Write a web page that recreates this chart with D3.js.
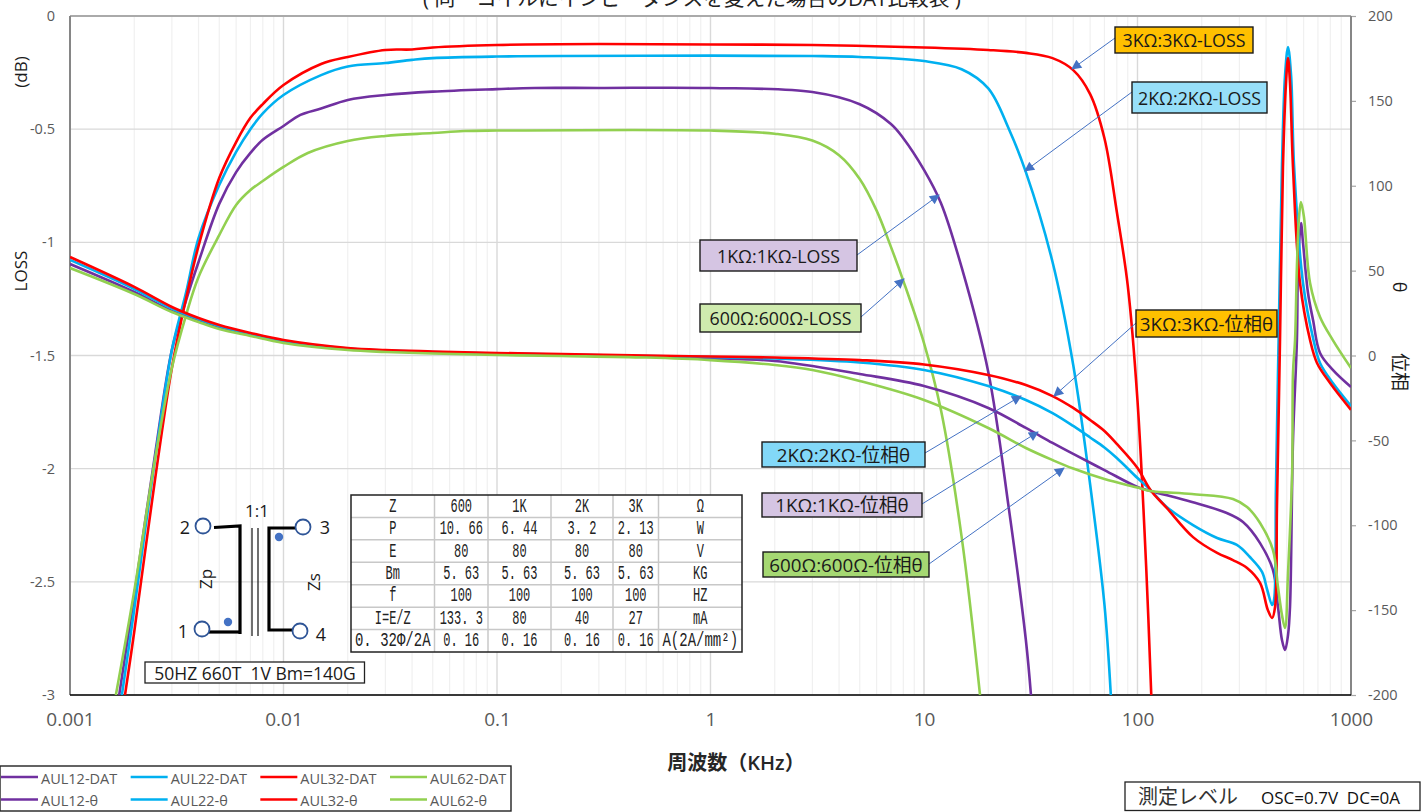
<!DOCTYPE html>
<html>
<head>
<meta charset="utf-8">
<script src="https://cdn.jsdelivr.net/npm/d3@7"></script>
<style>
  html, body { margin: 0; padding: 0; background: #fff; overflow: hidden; }
  text { font-family: "Open Sans", "Noto Sans CJK JP", sans-serif; white-space: pre; }
</style>
</head>
<body>
<svg id="chart" width="1424" height="812"></svg>
<script>
// LOSS curves, [KHz, dB]
const aul12Dat = [[0.0017,-3],[0.002,-2.56],[0.0025,-1.94],[0.003,-1.476],[0.0035,-1.255],[0.004,-1.087],[0.005,-0.83],[0.006,-0.69],[0.007,-0.605],[0.008,-0.547],[0.01,-0.486],[0.012,-0.437],[0.015,-0.409],[0.02,-0.371],[0.03,-0.349],[0.05,-0.334],[0.1,-0.323],[0.15,-0.318],[0.3,-0.318],[1,-0.318],[3,-0.336],[5,-0.39],[7,-0.477],[8,-0.54],[10,-0.68],[12,-0.826],[15,-1.11],[20,-1.573],[25,-2.18],[30,-2.757],[31.7,-3]];
const aul22Dat = [[0.00175,-3],[0.002,-2.62],[0.0025,-1.96],[0.003,-1.476],[0.0035,-1.22],[0.004,-0.981],[0.005,-0.747],[0.006,-0.6],[0.007,-0.5],[0.008,-0.43],[0.01,-0.349],[0.015,-0.261],[0.02,-0.223],[0.03,-0.208],[0.04,-0.194],[0.05,-0.186],[0.1,-0.179],[0.2,-0.177],[1,-0.175],[3,-0.177],[5,-0.181],[10,-0.199],[15,-0.235],[20,-0.32],[25,-0.5],[30,-0.69],[40,-1.087],[50,-1.542],[60,-2.07],[70,-2.6],[75,-3]];
const aul32Dat = [[0.00181,-3],[0.002,-2.72],[0.0025,-2.05],[0.003,-1.555],[0.0035,-1.246],[0.004,-1.016],[0.005,-0.716],[0.006,-0.557],[0.007,-0.45],[0.008,-0.389],[0.01,-0.305],[0.015,-0.212],[0.02,-0.181],[0.03,-0.15],[0.04,-0.148],[0.05,-0.139],[0.1,-0.128],[0.3,-0.124],[1,-0.126],[3,-0.128],[10,-0.139],[20,-0.15],[30,-0.163],[40,-0.186],[50,-0.239],[60,-0.345],[70,-0.54],[80,-0.865],[90,-1.19],[100,-1.7],[110,-2.45],[116,-3]];
const aul62Dat = [[0.00164,-3],[0.002,-2.54],[0.0025,-1.96],[0.003,-1.555],[0.0035,-1.32],[0.004,-1.153],[0.005,-0.968],[0.006,-0.835],[0.007,-0.769],[0.008,-0.729],[0.01,-0.667],[0.013,-0.605],[0.02,-0.552],[0.03,-0.53],[0.05,-0.517],[0.07,-0.508],[0.1,-0.506],[1,-0.506],[2,-0.52],[3,-0.55],[4,-0.615],[5,-0.72],[6,-0.86],[7,-1.02],[8,-1.17],[10,-1.445],[12,-1.74],[15,-2.3],[18.3,-3]];

// phase curves, [KHz, degrees]
const aul12Th = [[0.001,53.9],[0.002,37.4],[0.003,26.2],[0.004,20.3],[0.005,16.2],[0.007,12.1],[0.01,8],[0.02,3.8],[0.03,2.7],[0.05,1.8],[0.1,0.9],[0.2,0.3],[0.5,-0.6],[1,-1.8],[2,-3.2],[5,-10.9],[10,-18],[20,-30.9],[30,-42.7],[40,-51.5],[50,-58],[70,-67.5],[100,-77.5],[115,-79.8],[180,-86.3],[262,-92.8],[312,-98.1],[375,-110.5],[431,-126.4],[455,-148],[475,-167.6],[491,-173.5],[507,-164.7],[518,-148],[535,-49.8],[558,9.1],[565,52.1],[583,78],[596,66.3],[629,36.8],[664,20.9],[716,1.5],[822,-8.5],[1000,-18.6]];
const aul22Th = [[0.001,56.3],[0.002,39.2],[0.003,27.7],[0.004,21.5],[0.005,17.4],[0.007,12.7],[0.01,8.5],[0.02,4.1],[0.03,2.9],[0.05,2.1],[0.1,1.2],[0.2,0.6],[0.5,-0.3],[1,-0.9],[2,-1.8],[5,-4.1],[10,-8.5],[20,-18],[30,-26.2],[40,-33.9],[50,-41.5],[60,-48.3],[70,-54.2],[80,-60.4],[100,-72.2],[115,-79.2],[137,-89.2],[182,-99.9],[236,-107.5],[292,-111.6],[336,-118.7],[383,-127.5],[405,-138],[427,-147],[436,-144],[445,-79],[459,15],[475,112],[491,165],[507,181.7],[524,165],[541,112],[596,42.7],[664,10.3],[716,-4.4],[822,-16.2],[1000,-29.7]];
const aul32Th = [[0.001,58],[0.002,40.4],[0.003,28.6],[0.004,22.1],[0.005,18],[0.007,13.3],[0.01,9.1],[0.02,4.4],[0.03,3.2],[0.05,2.4],[0.1,1.5],[0.2,0.9],[0.5,0],[1,-0.6],[2,-1.2],[5,-2.7],[10,-5.3],[20,-11.5],[30,-17.4],[40,-23.9],[50,-30.9],[60,-38],[70,-44.5],[80,-52.1],[100,-66.3],[115,-79.2],[137,-89.8],[182,-107],[236,-116.3],[280,-120.5],[326,-125.2],[375,-134],[408,-150],[427,-154.6],[441,-148],[450,-89],[465,9.1],[480,111],[496,160.5],[507,175.3],[518,160.5],[535,111],[577,42.7],[643,9.1],[693,-4.4],[798,-16.2],[1000,-32]];
const aul62Th = [[0.001,51.5],[0.002,36.2],[0.003,25.6],[0.004,19.7],[0.005,15.6],[0.007,11.5],[0.01,7.4],[0.02,3.2],[0.03,2.1],[0.05,1.2],[0.1,0.3],[0.2,-0.3],[0.5,-1.2],[1,-2.7],[2,-5.6],[3,-8.5],[5,-15],[10,-26.2],[20,-42.7],[30,-54.5],[40,-61.6],[50,-66.6],[70,-72.8],[100,-77.8],[115,-79.8],[180,-81.6],[280,-84.5],[326,-89.3],[375,-98.7],[431,-114.6],[455,-136.4],[475,-152.9],[491,-160.5],[507,-128.1],[530,-69.2],[535,-10.3],[547,9.1],[558,52.1],[571,81.6],[583,90.4],[602,81.6],[643,42.7],[716,22.7],[822,9.1],[1000,-7.4]];

const seriesNames = ["AUL12", "AUL22", "AUL32", "AUL62"];
const seriesColors = ["#7030A0", "#00B0F0", "#FF0000", "#92D050"];
const lossSeries = [aul12Dat, aul22Dat, aul32Dat, aul62Dat];
const phaseSeries = [aul12Th, aul22Th, aul32Th, aul62Th];

const xTicks = [0.001, 0.01, 0.1, 1, 10, 100, 1000];
const lossTicks = [0, -0.5, -1, -1.5, -2, -2.5, -3];
const phaseTicks = [200, 150, 100, 50, 0, -50, -100, -150, -200];

const tableRows = [
  ["Z", "600", "1K", "2K", "3K", "Ω"],
  ["P", "10. 66", "6. 44", "3. 2", "2. 13", "W"],
  ["E", "80", "80", "80", "80", "V"],
  ["Bm", "5. 63", "5. 63", "5. 63", "5. 63", "KG"],
  ["f", "100", "100", "100", "100", "HZ"],
  ["I=E/Z", "133. 3", "80", "40", "27", "mA"],
  ["0. 32Φ/2A", "0. 16", "0. 16", "0. 16", "0. 16", "A(2A/mm²)"]
];

// box, then arrow start and end
const callouts = [
  { text: "3KΩ:3KΩ-LOSS", fill: "#FFC000", box: [1115, 27, 138, 26], from: [1115, 38], to: [1072, 69] },
  { text: "2KΩ:2KΩ-LOSS", fill: "#97DFF9", box: [1132, 82, 135, 31], from: [1132, 92], to: [1025, 171] },
  { text: "3KΩ:3KΩ-位相θ", fill: "#FFC000", box: [1136, 310, 141, 27], from: [1136, 323], to: [1054, 396] },
  { text: "1KΩ:1KΩ-LOSS", fill: "#D5C5E3", box: [700, 240, 157, 31], from: [857, 255], to: [939, 195] },
  { text: "600Ω:600Ω-LOSS", fill: "#CFEBAE", box: [700, 304, 161, 28], from: [861, 317], to: [904, 279] },
  { text: "2KΩ:2KΩ-位相θ", fill: "#82D8F8", box: [762, 442, 163, 25], from: [925, 453], to: [1021, 396] },
  { text: "1KΩ:1KΩ-位相θ", fill: "#D5C5E3", box: [762, 493, 160, 24], from: [922, 504], to: [1038, 432] },
  { text: "600Ω:600Ω-位相θ", fill: "#A5D872", box: [763, 552, 166, 25], from: [929, 564], to: [1064, 468] }
];

const plotL = 70, plotR = 1351, plotT = 16, plotB = 695;

const svg = d3.select("#chart");

const x = d3.scaleLog().domain([0.001, 1000]).range([plotL, plotR]);
const yLoss = d3.scaleLinear().domain([-3, 0]).range([plotB, plotT]);
const yPhase = d3.scaleLinear().domain([-200, 200]).range([plotB, plotT]);

svg.append("defs").append("clipPath").attr("id", "plot")
  .append("rect").attr("x", plotL).attr("y", plotT)
  .attr("width", plotR - plotL).attr("height", plotB - plotT);

const arrowDef = svg.select("defs").append("marker")
  .attr("id", "head").attr("viewBox", "0 0 10 10")
  .attr("refX", 9).attr("refY", 5)
  .attr("markerWidth", 13).attr("markerHeight", 10)
  .attr("markerUnits", "userSpaceOnUse")
  .attr("orient", "auto");
arrowDef.append("path").attr("d", "M0,0L10,5L0,10Z").attr("fill", "#4472C4");

// minor and major grid
const minorX = [];
xTicks.slice(0, -1).forEach(d => {
  for (let k = 2; k < 10; k++) minorX.push(d * k);
});

svg.append("g").selectAll("line").data(minorX).join("line")
  .attr("x1", d => x(d)).attr("x2", d => x(d))
  .attr("y1", plotT).attr("y2", plotB)
  .attr("stroke", "#f0f0f0").attr("stroke-width", 1.2);

svg.append("g").selectAll("line").data(xTicks).join("line")
  .attr("x1", d => x(d)).attr("x2", d => x(d))
  .attr("y1", plotT).attr("y2", plotB)
  .attr("stroke", "#d9d9d9").attr("stroke-width", 1.4);

svg.append("g").selectAll("line").data(lossTicks).join("line")
  .attr("x1", plotL).attr("x2", plotR)
  .attr("y1", d => yLoss(d)).attr("y2", d => yLoss(d))
  .attr("stroke", "#d9d9d9").attr("stroke-width", 1.4);

// axes
function styleAxis(g, size) {
  g.select(".domain").remove();
  g.selectAll("text").attr("fill", "#595959").attr("font-size", size);
  g.selectAll("line").attr("stroke", "#a6a6a6").attr("stroke-width", 1.2);
}

svg.append("g").attr("transform", `translate(0,${plotB})`)
  .call(d3.axisBottom(x).tickValues(xTicks).tickFormat(d => String(d)).tickSize(0).tickPadding(18))
  .call(styleAxis, 19);

svg.append("g").attr("transform", `translate(${plotL},0)`)
  .call(d3.axisLeft(yLoss).tickValues(lossTicks).tickFormat(d => String(d)).tickSize(0).tickPadding(15))
  .call(styleAxis, 14.5);

svg.append("g").attr("transform", `translate(${plotR},0)`)
  .call(d3.axisRight(yPhase).tickValues(phaseTicks).tickFormat(d => String(d)).tickSize(5).tickPadding(12))
  .call(styleAxis, 14.5);

// frame
svg.append("line").attr("x1", plotL).attr("x2", plotR).attr("y1", plotT).attr("y2", plotT)
  .attr("stroke", "#aaaaaa").attr("stroke-width", 2);
svg.append("line").attr("x1", plotL).attr("x2", plotL).attr("y1", plotT).attr("y2", plotB)
  .attr("stroke", "#868686").attr("stroke-width", 2);
svg.append("line").attr("x1", plotR).attr("x2", plotR).attr("y1", plotT).attr("y2", plotB)
  .attr("stroke", "#868686").attr("stroke-width", 2);
svg.append("line").attr("x1", plotL).attr("x2", plotR).attr("y1", plotB).attr("y2", plotB)
  .attr("stroke", "#000").attr("stroke-width", 1.6);

// curves
const smooth = d3.curveCatmullRom.alpha(0.5);
const lossLine = d3.line().x(d => x(d[0])).y(d => yLoss(d[1])).curve(smooth);
const phaseLine = d3.line().x(d => x(d[0])).y(d => yPhase(d[1])).curve(smooth);

const curves = svg.append("g").attr("clip-path", "url(#plot)")
  .attr("fill", "none").attr("stroke-width", 2.6).attr("stroke-linejoin", "round");

curves.selectAll(".loss").data(lossSeries).join("path").attr("class", "loss")
  .attr("d", lossLine).attr("stroke", (d, i) => seriesColors[i]);
curves.selectAll(".phase").data(phaseSeries).join("path").attr("class", "phase")
  .attr("d", phaseLine).attr("stroke", (d, i) => seriesColors[i]);

// title, cut off by the top of the page like the original
svg.append("text").attr("x", 692).attr("y", 6).attr("text-anchor", "middle")
  .attr("font-size", 20.7).attr("fill", "#222")
  .text("( 同一コイルにインピーダンスを変えた場合のDAT比較表 )");

// axis titles
function rotated(text, px, py, angle, size) {
  svg.append("text").attr("transform", `translate(${px},${py}) rotate(${angle})`)
    .attr("text-anchor", "middle").attr("dominant-baseline", "central")
    .attr("font-size", size).attr("fill", "#1a1a1a").text(text);
}
rotated("(dB)", 20, 72, -90, 17);
rotated("LOSS", 20, 271, -90, 17);
rotated("θ", 1400, 287, 90, 18);
rotated("位相", 1400, 372, 90, 19);

svg.append("text").attr("x", 736).attr("y", 770).attr("text-anchor", "middle")
  .attr("font-size", 20).attr("font-weight", 600).attr("fill", "#262626")
  .text("周波数（KHz）");

// callouts
const callout = svg.append("g").selectAll("g").data(callouts).join("g");
callout.append("line")
  .attr("x1", d => d.from[0]).attr("y1", d => d.from[1])
  .attr("x2", d => d.to[0]).attr("y2", d => d.to[1])
  .attr("stroke", "#4472C4").attr("stroke-width", 1)
  .attr("marker-end", "url(#head)");
callout.append("rect")
  .attr("x", d => d.box[0]).attr("y", d => d.box[1])
  .attr("width", d => d.box[2]).attr("height", d => d.box[3])
  .attr("fill", d => d.fill).attr("stroke", "#1a1a1a").attr("stroke-width", 1.4);
callout.append("text")
  .attr("x", d => d.box[0] + d.box[2] / 2).attr("y", d => d.box[1] + d.box[3] / 2)
  .attr("text-anchor", "middle").attr("dominant-baseline", "central")
  .attr("font-size", d => d.text.includes("位相") ? 18.8 : 17.8).attr("fill", "#1a1a1a")
  .text(d => d.text);

// spec table
const colEdges = [351, 434.5, 488, 551, 613, 658.5, 742];
const tableY = d3.scaleBand().domain(d3.range(tableRows.length)).range([495, 652]);

const table = svg.append("g");
table.append("rect").attr("x", colEdges[0]).attr("y", 495)
  .attr("width", colEdges[6] - colEdges[0]).attr("height", 157).attr("fill", "#fff");
table.selectAll(".vline").data(colEdges.slice(1, -1)).join("line").attr("class", "vline")
  .attr("x1", d => d).attr("x2", d => d).attr("y1", 495).attr("y2", 652)
  .attr("stroke", "#c8c8c8").attr("stroke-width", 1.5);
table.selectAll(".hline").data(d3.range(1, tableRows.length)).join("line").attr("class", "hline")
  .attr("x1", colEdges[0]).attr("x2", colEdges[6])
  .attr("y1", d => tableY(d)).attr("y2", d => tableY(d))
  .attr("stroke", "#c8c8c8").attr("stroke-width", 1.5);
table.append("rect").attr("x", colEdges[0]).attr("y", 495)
  .attr("width", colEdges[6] - colEdges[0]).attr("height", 157)
  .attr("fill", "none").attr("stroke", "#222").attr("stroke-width", 1.5);

tableRows.forEach((row, r) => {
  row.forEach((cell, c) => {
    const cx = (colEdges[c] + colEdges[c + 1]) / 2;
    const cy = tableY(r) + tableY.bandwidth() / 2;
    const sx = cell.length >= 9 ? 0.7 : 0.6;
    table.append("text")
      .attr("transform", `translate(${cx},${cy}) scale(${sx},1)`)
      .attr("text-anchor", "middle").attr("dominant-baseline", "central")
      .style("font-family", '"Liberation Mono", "Noto Sans CJK JP", monospace')
      .attr("font-size", 20).attr("fill", "#222")
      .text(cell);
  });
});

// transformer sketch
const sketch = svg.append("g");
const thick = [
  "M214,527.5L240,526V634",
  "M240,632H208",
  "M296,528H269V630H294"
];
sketch.selectAll(".winding").data(thick).join("path").attr("class", "winding")
  .attr("d", d => d).attr("fill", "none").attr("stroke", "#000").attr("stroke-width", 3.2);
sketch.selectAll(".core").data([252, 258]).join("line").attr("class", "core")
  .attr("x1", d => d).attr("x2", d => d).attr("y1", 528).attr("y2", 636)
  .attr("stroke", "#222").attr("stroke-width", 1.3);

const terminals = [
  { n: "2", cx: 203, cy: 526, lx: 185, ly: 527 },
  { n: "3", cx: 303, cy: 527, lx: 325, ly: 527 },
  { n: "1", cx: 202, cy: 629, lx: 183, ly: 631 },
  { n: "4", cx: 300, cy: 631, lx: 321, ly: 634 }
];
sketch.selectAll("circle.term").data(terminals).join("circle").attr("class", "term")
  .attr("cx", d => d.cx).attr("cy", d => d.cy).attr("r", 7.5)
  .attr("fill", "#fff").attr("stroke", "#2F5597").attr("stroke-width", 1.8);
sketch.selectAll("text.term").data(terminals).join("text").attr("class", "term")
  .attr("x", d => d.lx).attr("y", d => d.ly)
  .attr("text-anchor", "middle").attr("dominant-baseline", "central")
  .attr("font-size", 18).attr("fill", "#1a1a1a").text(d => d.n);
sketch.selectAll("circle.dot").data([[279, 537], [228, 622]]).join("circle").attr("class", "dot")
  .attr("cx", d => d[0]).attr("cy", d => d[1]).attr("r", 4.2).attr("fill", "#4472C4");
sketch.append("text").attr("x", 257).attr("y", 510).attr("text-anchor", "middle")
  .attr("dominant-baseline", "central").attr("font-size", 17).attr("fill", "#1a1a1a").text("1:1");
rotated("Zp", 205, 579, -90, 17);
rotated("Zs", 313, 582, -90, 17);

svg.append("rect").attr("x", 145).attr("y", 662).attr("width", 219.5).attr("height", 21)
  .attr("fill", "#fff").attr("stroke", "#222").attr("stroke-width", 1.3);
svg.append("text").attr("x", 255).attr("y", 673).attr("text-anchor", "middle")
  .attr("dominant-baseline", "central").attr("font-size", 17.5).attr("fill", "#1a1a1a")
  .text("50HZ 660T  1V Bm=140G");

// measuring level box
svg.append("rect").attr("x", 1125).attr("y", 782).attr("width", 295).attr("height", 28.5)
  .attr("fill", "#fff").attr("stroke", "#222").attr("stroke-width", 1.3);
svg.append("text").attr("x", 1138).attr("y", 796).attr("dominant-baseline", "central")
  .attr("font-size", 20).attr("fill", "#333").text("測定レベル");
svg.append("text").attr("x", 1261).attr("y", 797).attr("dominant-baseline", "central")
  .attr("font-size", 17).attr("fill", "#111").text("OSC=0.7V  DC=0A");

// legend
svg.append("rect").attr("x", 0).attr("y", 766).attr("width", 511).attr("height", 45)
  .attr("fill", "#fff").attr("stroke", "#222").attr("stroke-width", 1.4);
const legendX = d3.scalePoint().domain(seriesNames).range([1, 390]);
const legendY = d3.scalePoint().domain(["-DAT", "-θ"]).range([777, 799.5]);
["-DAT", "-θ"].forEach(suffix => {
  const row = svg.append("g").selectAll("g").data(seriesNames).join("g");
  row.append("line")
    .attr("x1", d => legendX(d)).attr("x2", d => legendX(d) + 37)
    .attr("y1", legendY(suffix)).attr("y2", legendY(suffix))
    .attr("stroke", (d, i) => seriesColors[i]).attr("stroke-width", 2.6);
  row.append("text")
    .attr("x", d => legendX(d) + 40).attr("y", legendY(suffix) + 1)
    .attr("dominant-baseline", "central").attr("font-size", 14.5).attr("fill", "#595959")
    .text(d => d + suffix);
});
</script>
</body>
</html>
